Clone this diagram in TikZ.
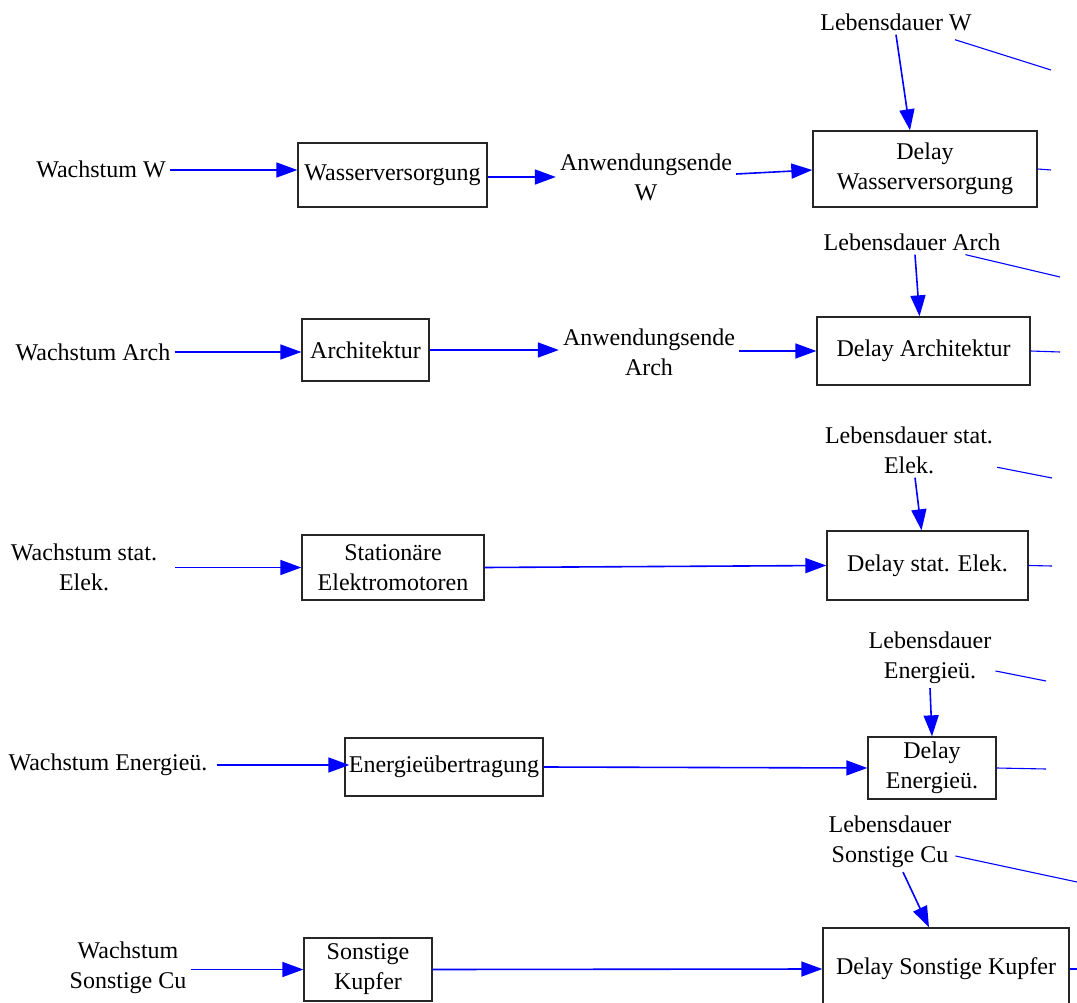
\documentclass[tikz,border=0pt]{standalone}
\usepackage{fontspec}
\setmainfont{Liberation Serif}
\newfontfamily\diafont{Liberation Serif}
\usetikzlibrary{arrows.meta}
\begin{document}
\begin{tikzpicture}[x=1pt,y=-1pt,
  every node/.style={font=\diafont\fontsize{24}{30}\selectfont},
  lbl/.style={align=center, inner sep=4pt},
  box/.style n args={2}{draw=black!85, line width=1.3pt, minimum width=#1, minimum height=#2, inner sep=0pt, align=center},
  flow/.style={draw=blue, line width=1.6pt, -{Triangle[length=21pt,width=15pt]}},
  link/.style={draw=blue, line width=1.1pt}]
\useasboundingbox (0,0) rectangle (1077,1003);
\clip (0,0) rectangle (1077,1003);

% ---- Wasserversorgung
\node[lbl] (tW) at (101,169) {Wachstum W};
\node[box={189pt}{64pt}] (bW) at (392.5,175) {Wasserversorgung};
\node[lbl] (aW) at (646,177) {Anwendungsende\\W};
\node[box={224pt}{76pt}] (dW) at (925,169) {Delay\\Wasserversorgung};
\node[lbl] (lW) at (896,22) {Lebensdauer W};
\coordinate (oW) at (1051,170);
\coordinate (rW) at (1051,70);
\draw[flow] ([yshift=-1pt]tW.east) -- ([yshift=-1pt]tW.east -| bW.west);
\draw[flow] (bW.east |- aW.west) -- (aW.west);
\draw[flow] ([yshift=3pt]aW.east) -- ([yshift=-1pt]dW.west);
\draw[flow] (lW.south) -- ([xshift=-15pt]dW.north);
\draw[link] (dW.east) -- (oW);
\draw[link] ([xshift=14pt]lW.south) ++(45,5) -- (rW);

% ---- Architektur
\node[lbl] (tA) at (93,352) {Wachstum Arch};
\node[box={127pt}{62pt}] (bA) at (365.5,350) {Architektur};
\node[lbl] (aA) at (649,352) {Anwendungsende\\Arch};
\node[box={213pt}{68pt}] (dA) at (923.5,351) {Delay Architektur};
\node[lbl] (lA) at (912,242) {Lebensdauer Arch};
\coordinate (oA) at (1060,352);
\coordinate (rA) at (1060,277);
\draw[flow] (tA.east) -- (tA.east -| bA.west);
\draw[flow] (bA.east) -- (bA.east -| aA.west);
\draw[flow] (aA.east |- dA.west) -- (dA.west);
\draw[flow] ([xshift=3pt]lA.south) -- ([xshift=-4pt]dA.north);
\draw[link] (dA.east) -- (oA);
\draw[link] (lA) -- (rA);

% ---- Stationaere Elektromotoren
\node[lbl] (tS) at (84,567) {Wachstum stat.\\Elek.};
\node[box={182pt}{65pt}] (bS) at (393,567.5) {Stationäre\\Elektromotoren};
\node[box={201pt}{69pt}] (dS) at (927.5,565.5) {Delay stat. Elek.};
\node[lbl] (lS) at (909,450) {Lebensdauer stat.\\Elek.};
\coordinate (oS) at (1052,566);
\coordinate (rS) at (1052,478);
\draw[flow] ([xshift=14pt]tS.east |- bS.west) -- (bS.west);
\draw[flow] (bS.east) -- (dS.west);
\draw[flow] ([xshift=6pt]lS.south) -- ([xshift=-6pt]dS.north);
\draw[link] (dS.east) -- (oS);
\draw[link] (lS) -- (rS);

% ---- Energieuebertragung
\node[lbl] (tE) at (108,765) {Wachstum Energieü.};
\node[box={198pt}{58pt}] (bE) at (444,767) {Energieübertragung};
\node[box={128pt}{62pt}] (dE) at (932,768) {Delay\\Energieü.};
\node[lbl] (lE) at (930,658) {Lebensdauer\\Energieü.};
\coordinate (oE) at (1046,769);
\coordinate (rE) at (1046,681);
\draw[flow] ([xshift=5pt]tE.east) -- ([xshift=5pt]tE.east -| bE.west);
\draw[flow] (bE.east) -- (dE.west);
\draw[flow] (lE.south) -- (dE.north);
\draw[link] (dE.east) -- (oE);
\draw[link] (lE) -- (rE);

% ---- Sonstige Kupfer
\node[lbl] (tK) at (128,968) {Wachstum\\Sonstige Cu};
\node[box={128pt}{63pt}] (bK) at (368,969.5) {Sonstige\\Kupfer};
\node[box={246pt}{82pt}] (dK) at (946,969) {Delay Sonstige Kupfer};
\node[lbl] (lK) at (890,842) {Lebensdauer\\Sonstige Cu};
\coordinate (oK) at (1077,969);
\coordinate (rK) at (1077,882);
\draw[flow] (tK.east |- bK.west) -- (bK.west);
\draw[flow] (bK.east) -- (dK.west);
\draw[flow] ([xshift=13pt]lK.south) -- ([xshift=-17pt]dK.north);
\draw[link] (dK.east) -- (oK);
\draw[link] (lK) -- (rK);
\end{tikzpicture}
\end{document}
